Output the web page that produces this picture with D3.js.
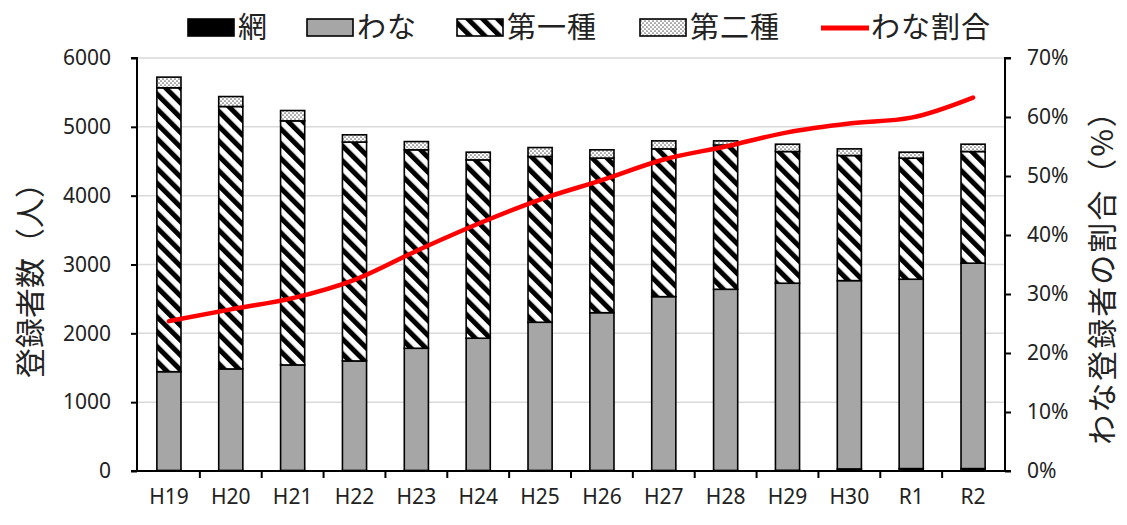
<!DOCTYPE html>
<html>
<head>
<meta charset="utf-8">
<script src="https://cdn.jsdelivr.net/npm/d3@7"></script>
<style>
  html, body { margin: 0; padding: 0; background: #fff; }
  svg { display: block; }
  text { font-family: "Noto Sans CJK JP", "Noto Sans", sans-serif; fill: #222; }
</style>
</head>
<body>
<svg id="chart" width="1127" height="525"></svg>
<script>
// Registered hunters by licence type (persons) and share of trap licences
const categories = ["H19","H20","H21","H22","H23","H24","H25","H26","H27","H28","H29","H30","R1","R2"];
const ami     = [8, 8, 8, 8, 8, 8, 8, 8, 8, 8, 10, 30, 35, 35];            // 網
const wana    = [1435, 1475, 1533, 1591, 1775, 1921, 2153, 2292, 2525, 2632, 2718, 2736, 2751, 2984]; // わな
const daiichi = [4124, 3812, 3546, 3180, 2883, 2591, 2408, 2246, 2147, 2096, 1913, 1817, 1759, 1622]; // 第一種
const daini   = [155, 145, 150, 105, 120, 112, 130, 120, 116, 60, 107, 97, 87, 107];                   // 第二種
const wanaShare = [0.254, 0.274, 0.293, 0.324, 0.373, 0.419, 0.460, 0.493, 0.528, 0.550, 0.574, 0.589, 0.599, 0.633]; // わな割合
const leftTicks  = [0, 1000, 2000, 3000, 4000, 5000, 6000];
const rightTicks = [0, 0.1, 0.2, 0.3, 0.4, 0.5, 0.6, 0.7];
const seriesKeys = ["網", "わな", "第一種", "第二種"];

const svg = d3.select("#chart");
const plot = { left: 138, right: 1004, top: 58, bottom: 471 };

// patterns
const defs = svg.append("defs");
const hatch = defs.append("pattern")
  .attr("id", "hatch").attr("patternUnits", "userSpaceOnUse")
  .attr("width", 10.5).attr("height", 10.5)
  .attr("patternTransform", "rotate(-45)");
hatch.append("rect").attr("width", 10.5).attr("height", 10.5).attr("fill", "#fff");
hatch.append("rect").attr("x", 0).attr("width", 5).attr("height", 10.5).attr("fill", "#000");

const dots = defs.append("pattern")
  .attr("id", "dots").attr("patternUnits", "userSpaceOnUse")
  .attr("width", 4).attr("height", 4);
dots.append("rect").attr("width", 4).attr("height", 4).attr("fill", "#fff");
dots.append("circle").attr("cx", 1).attr("cy", 1).attr("r", 0.85).attr("fill", "#666");
dots.append("circle").attr("cx", 3).attr("cy", 3).attr("r", 0.85).attr("fill", "#666");

const fills = { "網": "#000", "わな": "#a6a6a6", "第一種": "url(#hatch)", "第二種": "url(#dots)" };

// scales
const x = d3.scaleBand().domain(categories).range([plot.left, plot.right])
  .paddingInner(0.61).paddingOuter(0.305);
const y = d3.scaleLinear().domain([0, 6000]).range([plot.bottom, plot.top]);
const y2 = d3.scaleLinear().domain([0, 0.7]).range([plot.bottom, plot.top]);

// gridlines
svg.append("g").selectAll("line").data(leftTicks.filter(d => d > 0)).join("line")
  .attr("x1", plot.left).attr("x2", plot.right)
  .attr("y1", d => y(d)).attr("y2", d => y(d))
  .attr("stroke", "#d9d9d9").attr("stroke-width", 1.5);

// stacked bars
const rows = categories.map((c, i) => ({ cat: c, "網": ami[i], "わな": wana[i], "第一種": daiichi[i], "第二種": daini[i] }));
const stacked = d3.stack().keys(seriesKeys)(rows);
svg.append("g").selectAll("g").data(stacked).join("g")
  .attr("fill", d => fills[d.key])
  .selectAll("rect").data(d => d).join("rect")
  .attr("x", d => x(d.data.cat))
  .attr("width", x.bandwidth())
  .attr("y", d => y(d[1]))
  .attr("height", d => y(d[0]) - y(d[1]))
  .attr("stroke", "#000").attr("stroke-width", 1.6);

// share line
const line = d3.line().x((d, i) => x(categories[i]) + x.bandwidth() / 2).y(d => y2(d)).curve(d3.curveMonotoneX);
svg.append("path").datum(wanaShare).attr("d", line)
  .attr("fill", "none").attr("stroke", "#ff0000").attr("stroke-width", 4.5)
  .attr("stroke-linejoin", "round").attr("stroke-linecap", "round");

// axes
const axisLeft = svg.append("g").attr("transform", `translate(${plot.left - 1},0)`)
  .call(d3.axisLeft(y).tickValues(leftTicks).tickSize(6).tickPadding(20).tickFormat(d3.format("d")));
const axisRight = svg.append("g").attr("transform", `translate(${plot.right + 1},0)`)
  .call(d3.axisRight(y2).tickValues(rightTicks).tickSize(6).tickPadding(16).tickFormat(d3.format(".0%")));
const axisBottom = svg.append("g").attr("transform", `translate(0,${plot.bottom})`)
  .call(d3.axisBottom(x).tickSize(0).tickPadding(18));

[axisLeft, axisRight, axisBottom].forEach(g => {
  g.select(".domain").attr("stroke", "#000").attr("stroke-width", 2);
  g.selectAll(".tick line").attr("stroke", "#000").attr("stroke-width", 2);
  g.selectAll(".tick text").attr("font-size", 21).attr("fill", "#222")
    .style("font-family", "'Noto Sans', sans-serif");
});
axisLeft.select(".domain").attr("d", `M-6,${plot.top}H0V${plot.bottom}H-6`);
axisRight.select(".domain").attr("d", `M6,${plot.top}H0V${plot.bottom}H6`);
axisBottom.select(".domain").attr("d", `M${plot.left - 1},0H${plot.right + 1}`);

// category separators on the bottom axis
const step = x.step();
axisBottom.append("g").selectAll("line").data(d3.range(1, categories.length)).join("line")
  .attr("x1", i => plot.left + i * step).attr("x2", i => plot.left + i * step)
  .attr("y1", 0).attr("y2", 7).attr("stroke", "#000").attr("stroke-width", 2);

// axis titles
svg.append("text").attr("transform", "translate(41,273) rotate(-90)")
  .attr("text-anchor", "middle").attr("font-size", 30).text("登録者数（人）");
svg.append("text").attr("transform", "translate(1113,270) rotate(-90)")
  .attr("text-anchor", "middle").attr("font-size", 30).attr("letter-spacing", 2)
  .text("わな登録者の割合（%）");

// legend
const legendItems = [
  { label: "網", x: 188, type: "rect", fill: "#000" },
  { label: "わな", x: 307, type: "rect", fill: "#a6a6a6" },
  { label: "第一種", x: 457, type: "rect", fill: "url(#hatch)" },
  { label: "第二種", x: 640, type: "rect", fill: "url(#dots)" },
  { label: "わな割合", x: 821, type: "line", fill: "#ff0000" }
];
const lg = svg.append("g");
legendItems.forEach(it => {
  if (it.type === "rect") {
    lg.append("rect").attr("x", it.x).attr("y", 19).attr("width", 46).attr("height", 17)
      .attr("fill", it.fill).attr("stroke", "#000").attr("stroke-width", 1.6);
  } else {
    lg.append("line").attr("x1", it.x).attr("x2", it.x + 48).attr("y1", 28).attr("y2", 28)
      .attr("stroke", it.fill).attr("stroke-width", 5);
  }
  lg.append("text").attr("x", it.x + 50).attr("y", 38).attr("font-size", 29).attr("letter-spacing", 1).text(it.label);
});
</script>
</body>
</html>
